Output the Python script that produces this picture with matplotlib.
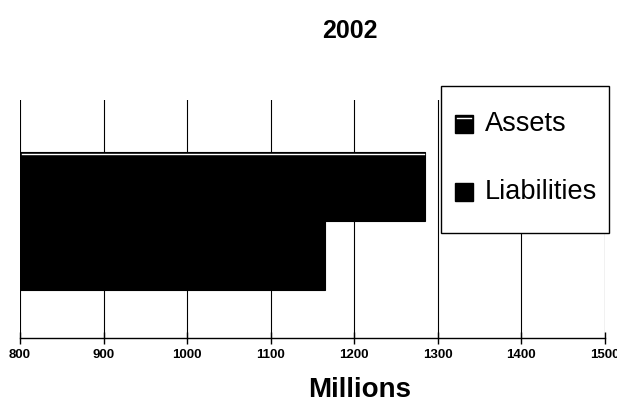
import matplotlib.pyplot as plt
from matplotlib.patches import Rectangle

plt.rcParams["font.family"] = ["Liberation Sans", "DejaVu Sans"]

# values (millions)
labels = ["Assets", "Liabilities"]
values = [1285, 1165]
positions = [1, 0]
xticks = [800, 900, 1000, 1100, 1200, 1300, 1400, 1500]

W, H = 617, 407
fig = plt.figure(figsize=(W / 100, H / 100), dpi=100)
ax = fig.add_axes([20 / W, 1 - 338 / H, 585 / W, 238 / H])

for lab, val, pos in zip(labels, values, positions):
    ax.barh(pos, val - 800, left=800, height=1.0, color="black",
            edgecolor="black", linewidth=0.8, zorder=3, label=lab)

# thin highlight line near the top of the Assets bar
ax.plot([802, values[0] - 2], [1.46, 1.46], color="white", lw=1.0, zorder=4)

ax.set_xlim(800, 1500)
ax.set_ylim(-1.2, 2.25)
ax.set_xticks(xticks)
ax.set_xticklabels([str(t) for t in xticks], fontsize=9.5, fontweight="bold")
ax.set_yticks([])
ax.grid(axis="x", color="black", linewidth=0.8, zorder=0)
for s in ["top", "right", "left"]:
    ax.spines[s].set_visible(False)
ax.spines["bottom"].set_linewidth(1.0)
ax.tick_params(axis="x", direction="inout", length=8, width=1, pad=4)

# legend box drawn by hand (sits above the plot, covers the 1400 gridline)
fig.patches.append(Rectangle((441 / W, 1 - 233 / H), 168 / W, 147 / H,
                             transform=fig.transFigure, facecolor="white",
                             edgecolor="black", linewidth=1.0, zorder=5))
for lab, yc in zip(labels, [124, 192]):
    fig.patches.append(Rectangle((455 / W, 1 - (yc + 9) / H), 18 / W, 18 / H,
                                 transform=fig.transFigure, facecolor="black",
                                 edgecolor="black", zorder=6))
    fig.text(485 / W, 1 - yc / H, lab, ha="left", va="center",
             fontsize=19.5, zorder=7)
fig.lines.append(plt.Line2D([457 / W, 471 / W], [1 - 118 / H, 1 - 118 / H],
                            transform=fig.transFigure, color="white",
                            lw=1.0, zorder=7))

fig.text(350 / W, 1 - 31 / H, "2002", ha="center", va="center",
         fontsize=18, fontweight="bold")
fig.text(360 / W, 1 - 390 / H, "Millions", ha="center", va="center",
         fontsize=20, fontweight="bold")

fig.savefig("out.png", dpi=100)
